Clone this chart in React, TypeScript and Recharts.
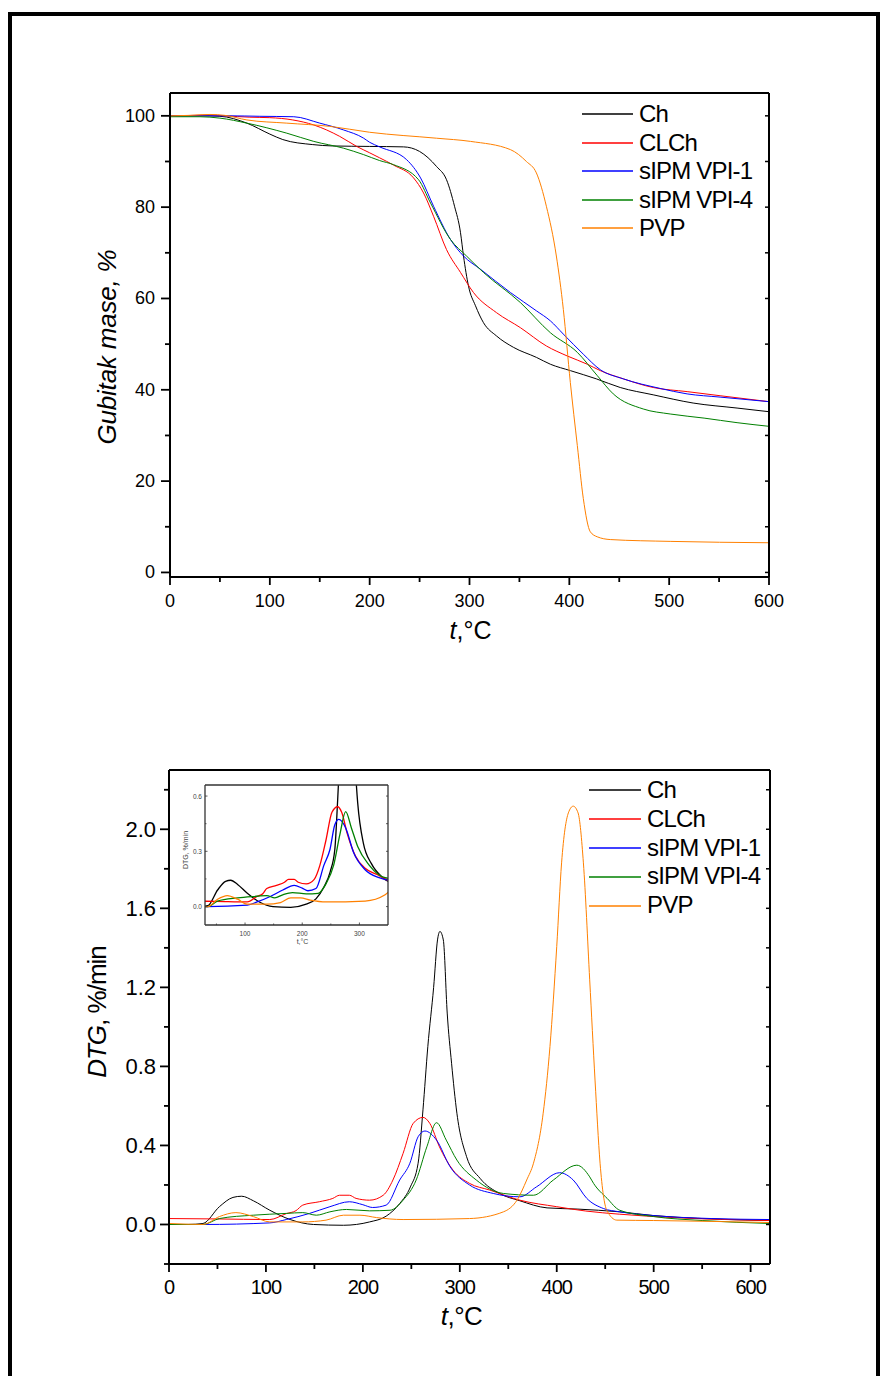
import React from 'react';
import { LineChart, Line, XAxis, YAxis, Legend, Label } from 'recharts';

const FONT = '"Liberation Sans", Arial, sans-serif';

const seriesNames = ['Ch', 'CLCh', 'sIPM VPI-1', 'sIPM VPI-4', 'PVP'];
const seriesColors = ['#000000', '#ff0000', '#0000ff', '#008000', '#ff8000'];

// TGA curves: [t in °C, mass in %]
const tgaCh = [[0, 100], [30, 100], [50, 99.9], [77, 98.4], [100, 96], [113, 94.8], [143, 93.7], [163, 93.4], [200, 93.3], [234, 93.2], [250, 92.2], [267, 88.9], [277, 86], [285, 80.2], [291, 74.4], [294, 69.3], [299, 62.7], [306, 58.4], [314, 54.7], [327, 51.8], [344, 49.3], [367, 47.1], [381, 45.6], [401, 44.2], [427, 42.4], [451, 40.5], [484, 38.9], [524, 37.1], [568, 36], [600, 35.2]];
const tgaClch = [[0, 100], [25, 100.1], [40, 100.2], [55, 100], [80, 99.7], [100, 99.6], [123, 99.1], [144, 98], [170, 95.5], [187, 93.3], [200, 91.9], [210, 90.8], [224, 89.2], [244, 86.4], [254, 83.1], [264, 78], [277, 70.7], [291, 65.7], [304, 61.3], [327, 56.9], [351, 53.6], [377, 49.6], [398, 47.4], [418, 45.6], [431, 44.2], [454, 42.4], [484, 40.5], [518, 39.6], [551, 38.7], [600, 37.4]];
const tgaVpi1 = [[0, 100], [30, 100], [60, 100], [90, 99.9], [124, 99.8], [150, 98.4], [174, 96.9], [194, 95.1], [200, 94.2], [210, 93.2], [237, 90.4], [251, 86.4], [264, 80.2], [281, 72.9], [294, 69.3], [311, 66.4], [341, 61.3], [367, 57.3], [381, 55.1], [394, 52.2], [414, 47.8], [431, 44.4], [454, 42.4], [491, 40.3], [518, 39.1], [551, 38.4], [600, 37.4]];
const tgaVpi4 = [[0, 99.8], [30, 99.8], [50, 99.5], [77, 98.4], [117, 96.2], [144, 94.4], [174, 92.9], [194, 91.5], [210, 90.2], [224, 89.3], [249, 86], [261, 80.9], [281, 72.9], [297, 69.3], [314, 65.7], [351, 59.1], [381, 52.5], [408, 48.2], [428, 43.1], [444, 39.1], [474, 35.8], [501, 34.7], [535, 33.8], [568, 32.8], [600, 32]];
const tgaPvp = [[0, 100], [20, 100.1], [40, 100.3], [55, 100.1], [77, 99.1], [117, 98.4], [160, 97.7], [200, 96.4], [267, 95.1], [301, 94.4], [341, 92.6], [357, 90], [367, 87.5], [377, 80.2], [387, 69.3], [394, 57.6], [401, 41.6], [408, 27.8], [414, 16.2], [421, 8.9], [428, 7.8], [441, 7.2], [501, 6.8], [600, 6.5]];

// DTG curves: [t in °C, DTG in %/min]
const dtgCh = [[0, 0], [20, 0], [35, 0.005], [52, 0.09], [66, 0.137], [75, 0.143], [87, 0.12], [104, 0.072], [125, 0.025], [149, 0], [180, -0.004], [207, 0.013], [224, 0.042], [238, 0.106], [249, 0.19], [257, 0.31], [262, 0.58], [267, 0.9], [273, 1.2], [277, 1.44], [279.5, 1.483], [283, 1.44], [287, 1.07], [291.5, 0.816], [297, 0.563], [307, 0.343], [321, 0.233], [341, 0.157], [362, 0.12], [390, 0.084], [421, 0.078], [465, 0.064], [500, 0.045], [550, 0.03], [620, 0.02]];
const dtgClch = [[0, 0.03], [50, 0.028], [104, 0.025], [121, 0.055], [131, 0.07], [138, 0.098], [155, 0.115], [169, 0.132], [176, 0.148], [186, 0.148], [193, 0.132], [207, 0.123], [221, 0.148], [231, 0.225], [241.5, 0.36], [252, 0.512], [262, 0.542], [269, 0.512], [279, 0.393], [293, 0.275], [310, 0.208], [331, 0.174], [362, 0.123], [400, 0.09], [430, 0.068], [465, 0.052], [520, 0.035], [620, 0.02]];
const dtgVpi1 = [[0, 0], [35, 0], [104, 0.008], [121, 0.025], [145, 0.056], [166, 0.09], [186, 0.115], [200, 0.1], [210, 0.086], [224, 0.098], [238, 0.225], [248.5, 0.31], [257, 0.444], [264, 0.473], [276, 0.427], [290, 0.292], [310, 0.2], [334.5, 0.157], [362, 0.14], [379, 0.19], [403, 0.262], [417, 0.225], [431, 0.132], [448, 0.081], [465, 0.064], [500, 0.045], [560, 0.03], [620, 0.025]];
const dtgVpi4 = [[0, 0], [35, 0], [52, 0.03], [87, 0.047], [121, 0.056], [138, 0.06], [152, 0.047], [166, 0.064], [183, 0.076], [207, 0.069], [228, 0.072], [241.5, 0.123], [255, 0.225], [266, 0.393], [276, 0.515], [286, 0.427], [297, 0.326], [317, 0.225], [345, 0.157], [376, 0.148], [396.5, 0.225], [420.7, 0.3], [434, 0.241], [438, 0.208], [452, 0.132], [465, 0.072], [500, 0.04], [550, 0.02], [620, 0.005]];
const dtgPvp = [[0, 0.005], [35, 0], [52, 0.04], [69, 0.06], [87, 0.04], [104, 0.013], [138, 0.013], [162, 0.022], [180, 0.047], [197, 0.047], [214, 0.035], [241.5, 0.025], [310, 0.03], [345, 0.064], [359, 0.123], [369, 0.225], [376, 0.31], [386, 0.563], [393, 0.9], [400, 1.407], [405, 1.83], [412, 2.083], [417, 2.117], [422, 2.083], [427.5, 1.83], [434, 1.238], [439.5, 0.731], [444.7, 0.31], [451.6, 0.072], [462, 0.022], [500, 0.02], [620, 0.01]];

const tgaSeries = [tgaCh, tgaClch, tgaVpi1, tgaVpi4, tgaPvp];
const dtgSeries = [dtgCh, dtgClch, dtgVpi1, dtgVpi4, dtgPvp];

const tgaXTicks = [0, 50, 100, 150, 200, 250, 300, 350, 400, 450, 500, 550, 600];
const tgaYTicks = [0, 10, 20, 30, 40, 50, 60, 70, 80, 90, 100];
const dtgXTicks = [0, 50, 100, 150, 200, 250, 300, 350, 400, 450, 500, 550, 600];
const dtgYTicks = [-0.2, 0, 0.2, 0.4, 0.6, 0.8, 1.0, 1.2, 1.4, 1.6, 1.8, 2.0, 2.2];
const insetXTicks = [50, 100, 150, 200, 250, 300];
const insetYTicks = [0, 0.15, 0.3, 0.45, 0.6];

const toPoints = (pairs: number[][]) => pairs.map(([t, v]) => ({ t, v }));

type Side = 'left' | 'right' | 'top' | 'bottom';
interface TickStyle {
  side: Side;
  inward?: boolean;
  isMajor: (v: number) => boolean;
  majorLen: number;
  minorLen: number;
  stroke: string;
  strokeWidth: number;
  label?: (v: number) => string;
  labelOffset?: number;
  fontSize?: number;
  spacing?: number;
  color?: string;
}

// draws tick lines (major/minor lengths) and labels for one axis side
function makeTick(s: TickStyle) {
  return (props: any) => {
    const { x, y, payload } = props;
    const v = payload.value;
    const major = s.isMajor(v);
    const len = major ? s.majorLen : s.minorLen;
    let dir = 1;
    if (s.side === 'left' || s.side === 'top') dir = -1;
    if (s.inward) dir = -dir;
    const horiz = s.side === 'left' || s.side === 'right';
    const line = horiz
      ? { x1: x, y1: y, x2: x + dir * len, y2: y }
      : { x1: x, y1: y, x2: x, y2: y + dir * len };
    let text = null;
    if (major && s.label) {
      const common = {
        fontFamily: FONT,
        fontSize: s.fontSize,
        fill: s.color || '#000',
        letterSpacing: s.spacing || 0,
        dominantBaseline: 'central' as const,
      };
      if (s.side === 'left') {
        text = <text x={x - (s.labelOffset || 0)} y={y} textAnchor="end" {...common}>{s.label(v)}</text>;
      } else if (s.side === 'bottom') {
        text = <text x={x} y={y + (s.labelOffset || 0)} textAnchor="middle" {...common}>{s.label(v)}</text>;
      }
    }
    return (
      <g>
        <line {...line} stroke={s.stroke} strokeWidth={s.strokeWidth} />
        {text}
      </g>
    );
  };
}

const renderLegend = (rowH: number, lineLen: number) => (props: any) => {
  const items = [...(props.payload || [])].sort(
    (a: any, b: any) => seriesNames.indexOf(a.value) - seriesNames.indexOf(b.value)
  );
  return (
    <div style={{ fontFamily: FONT, fontSize: 24, letterSpacing: -0.8, color: '#000' }}>
      {items.map((entry: any) => (
        <div key={entry.value} style={{ display: 'flex', alignItems: 'center', height: rowH }}>
          <svg width={lineLen} height={4} style={{ marginRight: 6 }}>
            <line x1={0} y1={2} x2={lineLen} y2={2} stroke={entry.color} strokeWidth={1.3} />
          </svg>
          <span style={{ lineHeight: `${rowH}px`, whiteSpace: 'nowrap' }}>{entry.value}</span>
        </div>
      ))}
    </div>
  );
};

const axisLine = { stroke: '#000', strokeWidth: 2 };

function TgaChart() {
  return (
    <LineChart width={880} height={660} margin={{ top: 92, right: 110, bottom: 43, left: 110 }}>
      <XAxis xAxisId="b" type="number" dataKey="t" domain={[0, 600]} allowDataOverflow ticks={tgaXTicks} interval={0}
        height={40} tickSize={0} tickMargin={0} tickLine={false} axisLine={axisLine}
        tick={makeTick({ side: 'bottom', isMajor: (v) => v % 100 === 0, majorLen: 8, minorLen: 5, stroke: '#000', strokeWidth: 1.8, label: (v) => String(v), labelOffset: 24, fontSize: 18 })}>
        <Label content={(p: any) => {
          const vb = p.viewBox;
          return (
            <text x={vb.x + vb.width / 2 + 1} y={vb.y + 53} textAnchor="middle" dominantBaseline="central" fontFamily={FONT} fontSize={25}>
              <tspan fontStyle="italic">t</tspan>,°C
            </text>
          );
        }} />
      </XAxis>
      <XAxis xAxisId="t" orientation="top" type="number" domain={[0, 600]} allowDataOverflow ticks={tgaXTicks} interval={0}
        height={1} tickSize={0} tickMargin={0} tickLine={false} axisLine={axisLine}
        tick={makeTick({ side: 'top', inward: true, isMajor: () => true, majorLen: 4, minorLen: 4, stroke: '#000', strokeWidth: 1.5 })} />
      <YAxis yAxisId="l" type="number" domain={[-1, 105]} allowDataOverflow ticks={tgaYTicks} interval={0}
        width={60} tickSize={0} tickMargin={0} tickLine={false} axisLine={axisLine}
        tick={makeTick({ side: 'left', isMajor: (v) => v % 20 === 0, majorLen: 9, minorLen: 5, stroke: '#000', strokeWidth: 1.8, label: (v) => String(v), labelOffset: 15, fontSize: 18 })}>
        <Label content={(p: any) => {
          const vb = p.viewBox;
          const cx = vb.x + vb.width - 63;
          const cy = vb.y + vb.height / 2 + 12;
          return (
            <text x={cx} y={cy} transform={`rotate(-90, ${cx}, ${cy})`} textAnchor="middle" dominantBaseline="central"
              fontFamily={FONT} fontSize={26} letterSpacing={-0.2} fontStyle="italic">
              Gubitak mase, %
            </text>
          );
        }} />
      </YAxis>
      <YAxis yAxisId="r" orientation="right" type="number" domain={[-1, 105]} allowDataOverflow ticks={tgaYTicks} interval={0}
        width={1} tickSize={0} tickMargin={0} tickLine={false} axisLine={axisLine}
        tick={makeTick({ side: 'right', inward: true, isMajor: () => true, majorLen: 4, minorLen: 4, stroke: '#000', strokeWidth: 1.5 })} />
      <Legend layout="vertical" align="center" verticalAlign="middle" wrapperStyle={{ left: 582, top: 100 }}
        content={renderLegend(28.5, 51)} />
      {tgaSeries.map((s, i) => (
        <Line key={seriesNames[i]} xAxisId="b" yAxisId="l" data={toPoints(s)} dataKey="v" name={seriesNames[i]}
          type="monotone" stroke={seriesColors[i]} strokeWidth={1} dot={false} activeDot={false} isAnimationActive={false} />
      ))}
    </LineChart>
  );
}

function DtgChart() {
  return (
    <LineChart width={880} height={640} margin={{ top: 69, right: 109, bottom: 36, left: 109 }}>
      <XAxis xAxisId="b" type="number" dataKey="t" domain={[0, 620]} allowDataOverflow ticks={dtgXTicks} interval={0}
        height={40} tickSize={0} tickMargin={0} tickLine={false} axisLine={axisLine}
        tick={makeTick({ side: 'bottom', isMajor: (v) => v % 100 === 0, majorLen: 8, minorLen: 5, stroke: '#000', strokeWidth: 1.8, label: (v) => String(v), labelOffset: 23, fontSize: 20, spacing: -1 })}>
        <Label content={(p: any) => {
          const vb = p.viewBox;
          return (
            <text x={vb.x + vb.width / 2 - 8} y={vb.y + 52} textAnchor="middle" dominantBaseline="central" fontFamily={FONT} fontSize={26} letterSpacing={-0.5}>
              <tspan fontStyle="italic">t</tspan>,°C
            </text>
          );
        }} />
      </XAxis>
      <XAxis xAxisId="t" orientation="top" type="number" domain={[0, 620]} allowDataOverflow ticks={dtgXTicks} interval={0}
        height={1} tickSize={0} tickMargin={0} tickLine={false} axisLine={axisLine}
        tick={makeTick({ side: 'top', inward: true, isMajor: () => true, majorLen: 4, minorLen: 4, stroke: '#000', strokeWidth: 1.5 })} />
      <YAxis yAxisId="l" type="number" domain={[-0.2, 2.3]} allowDataOverflow ticks={dtgYTicks} interval={0}
        width={60} tickSize={0} tickMargin={0} tickLine={false} axisLine={axisLine}
        tick={makeTick({ side: 'left', isMajor: (v) => Math.abs(Math.round(v * 10)) % 4 === 0, majorLen: 9, minorLen: 5, stroke: '#000', strokeWidth: 1.8, label: (v) => v.toFixed(1), labelOffset: 13, fontSize: 22 })}>
        <Label content={(p: any) => {
          const vb = p.viewBox;
          const cx = vb.x + vb.width - 72;
          const cy = vb.y + vb.height / 2 - 5;
          return (
            <text x={cx} y={cy} transform={`rotate(-90, ${cx}, ${cy})`} textAnchor="middle" dominantBaseline="central"
              fontFamily={FONT} fontSize={26} letterSpacing={-1}>
              <tspan fontStyle="italic">DTG</tspan>, %/min
            </text>
          );
        }} />
      </YAxis>
      <YAxis yAxisId="r" orientation="right" type="number" domain={[-0.2, 2.3]} allowDataOverflow ticks={dtgYTicks} interval={0}
        width={1} tickSize={0} tickMargin={0} tickLine={false} axisLine={axisLine}
        tick={makeTick({ side: 'right', inward: true, isMajor: () => true, majorLen: 4, minorLen: 4, stroke: '#000', strokeWidth: 1.5 })} />
      <Legend layout="vertical" align="center" verticalAlign="middle" wrapperStyle={{ left: 589, top: 76 }}
        content={renderLegend(28.8, 52)} />
      {dtgSeries.map((s, i) => (
        <Line key={seriesNames[i]} xAxisId="b" yAxisId="l" data={toPoints(s)} dataKey="v" name={seriesNames[i]}
          type="monotone" stroke={seriesColors[i]} strokeWidth={1} dot={false} activeDot={false} isAnimationActive={false} />
      ))}
    </LineChart>
  );
}

const insetAxis = { stroke: '#333', strokeWidth: 1.3 };

function DtgInset() {
  return (
    <LineChart width={250} height={175} margin={{ top: 9, right: 11, bottom: 10, left: 25 }}>
      <XAxis xAxisId="b" type="number" dataKey="t" domain={[30, 350]} allowDataOverflow ticks={insetXTicks} interval={0}
        height={15} tickSize={0} tickMargin={0} tickLine={false} axisLine={insetAxis}
        tick={makeTick({ side: 'bottom', inward: true, isMajor: (v) => v % 100 === 0, majorLen: 2.5, minorLen: 1.5, stroke: '#333', strokeWidth: 0.8, label: (v) => String(v), labelOffset: 8, fontSize: 6.5, color: '#444' })}>
        <Label content={(p: any) => {
          const vb = p.viewBox;
          return (
            <text x={vb.x + vb.width / 2 + 6} y={vb.y + 16} textAnchor="middle" dominantBaseline="central" fontFamily={FONT} fontSize={7} fill="#444">
              t,°C
            </text>
          );
        }} />
      </XAxis>
      <XAxis xAxisId="t" orientation="top" type="number" domain={[30, 350]} allowDataOverflow ticks={insetXTicks} interval={0}
        height={1} tickSize={0} tickMargin={0} tickLine={false} axisLine={insetAxis}
        tick={makeTick({ side: 'top', inward: true, isMajor: () => true, majorLen: 2, minorLen: 2, stroke: '#333', strokeWidth: 0.8 })} />
      <YAxis yAxisId="l" type="number" domain={[-0.1, 0.66]} allowDataOverflow ticks={insetYTicks} interval={0}
        width={30} tickSize={0} tickMargin={0} tickLine={false} axisLine={insetAxis}
        tick={makeTick({ side: 'left', inward: true, isMajor: (v) => Math.round(v * 100) % 30 === 0, majorLen: 2.5, minorLen: 1.5, stroke: '#333', strokeWidth: 0.8, label: (v) => v.toFixed(1), labelOffset: 3, fontSize: 6.5, color: '#444' })}>
        <Label content={(p: any) => {
          const vb = p.viewBox;
          const cx = vb.x + vb.width - 20;
          const cy = vb.y + vb.height / 2 - 5;
          return (
            <text x={cx} y={cy} transform={`rotate(-90, ${cx}, ${cy})`} textAnchor="middle" dominantBaseline="central"
              fontFamily={FONT} fontSize={7} fill="#444">
              DTG, %/min
            </text>
          );
        }} />
      </YAxis>
      <YAxis yAxisId="r" orientation="right" type="number" domain={[-0.1, 0.66]} allowDataOverflow ticks={insetYTicks} interval={0}
        width={1} tickSize={0} tickMargin={0} tickLine={false} axisLine={insetAxis}
        tick={makeTick({ side: 'right', inward: true, isMajor: () => true, majorLen: 2, minorLen: 2, stroke: '#333', strokeWidth: 0.8 })} />
      {dtgSeries.map((s, i) => (
        <Line key={seriesNames[i]} xAxisId="b" yAxisId="l" data={toPoints(s)} dataKey="v" name={seriesNames[i]}
          type="monotone" stroke={seriesColors[i]} strokeWidth={1.3} dot={false} activeDot={false} isAnimationActive={false} />
      ))}
    </LineChart>
  );
}

export default function App() {
  return (
    <div style={{ position: 'absolute', left: 0, top: 0, width: 880, height: 1376, overflow: 'hidden', background: '#fff' }}>
      <div style={{
        position: 'absolute', left: 8, top: 12, width: 872, height: 1400, boxSizing: 'border-box',
        borderLeft: '4px solid #000', borderTop: '4px solid #000', borderRight: '4px solid #000',
      }} />
      <div style={{ position: 'absolute', left: 0, top: 0 }}>
        <TgaChart />
      </div>
      <div style={{ position: 'absolute', left: 0, top: 700 }}>
        <DtgChart />
      </div>
      <div style={{ position: 'absolute', left: 150, top: 775 }}>
        <DtgInset />
      </div>
    </div>
  );
}
